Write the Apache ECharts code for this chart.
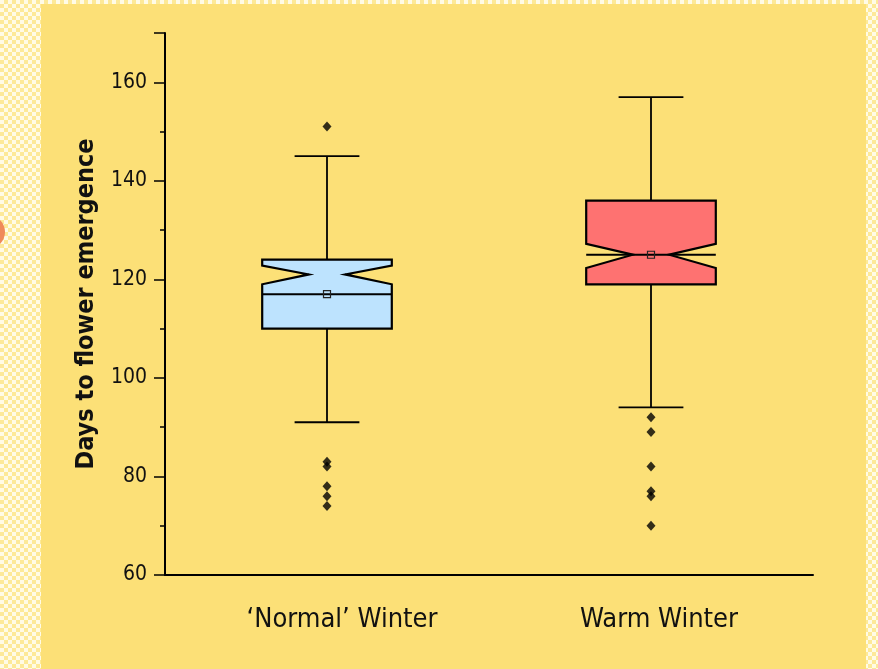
<!DOCTYPE html>
<html>
<head>
<meta charset="utf-8">
<script src="https://cdn.jsdelivr.net/npm/echarts@6/dist/echarts.min.js"></script>
<style>
  html, body { margin: 0; padding: 0; }
  body {
    width: 878px; height: 669px; overflow: hidden; position: relative;
    background-color: #fff6d0;
    background-image: repeating-conic-gradient(#fde998 0 25%, #fffbe6 0 50%);
    background-size: 8px 8px;
  }
  .dot { position: absolute; left: -29px; top: 215px; width: 34px; height: 34px; border-radius: 50%; background: #ef8a5b; }
  #chart { position: absolute; left: 41px; top: 4px; width: 825px; height: 665px; background: #fce077; }
</style>
</head>
<body>
<div class="dot"></div>
<div id="chart"></div>
<script>
  // data
  const categories = ['\u2018Normal\u2019 Winter', 'Warm Winter'];
  const whiskerLow = [91, 94];
  const q1 = [110, 119];
  const notchLow = [119, 122.3];
  const notchMid = [121, 125];
  const notchHigh = [122.8, 127.2];
  const medians = [117, 125];
  const q3 = [124, 136];
  const whiskerHigh = [145, 157];
  const means = [117, 125];
  const outliersNormal = [151, 83, 82, 78, 76, 74];
  const outliersWarm = [92, 89, 82, 77, 76, 70];
  const boxColors = ['#bde3fe', '#fe7271'];
  const labelShift = [30, 16];   // labels sit a bit right of the ticks

  const font = "'Liberation Sans Narrow', 'DejaVu Sans Condensed', 'Liberation Sans', sans-serif";

  let chart = echarts.init(document.getElementById('chart'));

  let boxData = categories.map(function (c, i) {
    return [i, whiskerLow[i], q1[i], notchLow[i], notchMid[i], notchHigh[i], medians[i], q3[i], whiskerHigh[i], means[i]];
  });

  let outlierData = [];
  outliersNormal.forEach(function (v) { outlierData.push([0, v]); });
  outliersWarm.forEach(function (v) { outlierData.push([1, v]); });

  function renderBox(params, api) {
    let idx = api.value(0);
    let y = function (v) { return api.coord([idx, v])[1]; };
    let cx = api.coord([idx, medians[idx]])[0];
    let half = api.size([1, 0])[0] * 0.2;
    let inset = half * 0.72;
    let yMin = y(api.value(1)), yQ1 = y(api.value(2)), yNL = y(api.value(3)), yNM = y(api.value(4)),
        yNH = y(api.value(5)), yMed = y(api.value(6)), yQ3 = y(api.value(7)), yMax = y(api.value(8)),
        yMean = y(api.value(9));
    let pts = [
      [cx - half, yQ3], [cx + half, yQ3], [cx + half, yNH], [cx + half - inset, yNM], [cx + half, yNL],
      [cx + half, yQ1], [cx - half, yQ1], [cx - half, yNL], [cx - half + inset, yNM], [cx - half, yNH]
    ];
    let ln = {stroke: '#000', lineWidth: 1.8};
    let cap = half / 2;
    return {
      type: 'group',
      children: [
        {type: 'line', shape: {x1: cx, y1: yMax, x2: cx, y2: yQ3}, style: ln},
        {type: 'line', shape: {x1: cx, y1: yQ1, x2: cx, y2: yMin}, style: ln},
        {type: 'line', shape: {x1: cx - cap, y1: yMax, x2: cx + cap, y2: yMax}, style: ln},
        {type: 'line', shape: {x1: cx - cap, y1: yMin, x2: cx + cap, y2: yMin}, style: ln},
        {type: 'polygon', shape: {points: pts}, style: {fill: boxColors[idx], stroke: '#000', lineWidth: 2.2}},
        {type: 'line', shape: {x1: cx - half, y1: yMed, x2: cx + half, y2: yMed}, style: {stroke: '#000', lineWidth: 2}},
        {type: 'rect', shape: {x: cx - 3.5, y: yMean - 3.5, width: 7, height: 7}, style: {fill: 'none', stroke: '#222', lineWidth: 1.2}}
      ]
    };
  }

  let option = {
    animation: false,
    grid: {left: 124, right: 53, top: 29, bottom: 94},
    xAxis: {
      type: 'category',
      data: categories.map(function (c, i) {
        return {value: c, textStyle: {padding: [0, 0, 0, labelShift[i]]}};
      }),
      axisLine: {lineStyle: {color: '#000', width: 2}},
      axisTick: {alignWithLabel: true, length: 7, lineStyle: {color: '#000', width: 1.5}},
      axisLabel: {color: '#111', fontSize: 27, fontFamily: font, margin: 31},
      splitLine: {show: false}
    },
    yAxis: [
      {
        type: 'value', min: 60, max: 170, interval: 20, position: 'left',
        name: 'Days to flower emergence',
        nameLocation: 'middle',
        nameGap: 66,
        nameTextStyle: {color: '#111', fontSize: 25, fontFamily: font, fontWeight: 'bold'},
        axisLine: {show: true, lineStyle: {color: '#000', width: 2}},
        axisTick: {show: true, length: 11, lineStyle: {color: '#000', width: 1.5}},
        axisLabel: {color: '#111', fontSize: 21, fontFamily: font, margin: 18,
          formatter: function (v) { return v > 160 ? '' : v; }},
        splitLine: {show: false}
      },
      {
        type: 'value', min: 60, max: 170, interval: 10, position: 'left', offset: 0,
        axisLine: {show: false},
        axisTick: {show: true, length: 5, lineStyle: {color: '#000', width: 1.5}},
        axisLabel: {show: false},
        splitLine: {show: false}
      }
    ],
    series: [
      {
        type: 'custom',
        renderItem: renderBox,
        encode: {x: 0, y: [1, 2, 3, 4, 5, 6, 7, 8, 9]},
        data: boxData,
        z: 2
      },
      {
        type: 'scatter',
        symbol: 'diamond',
        symbolSize: [9, 10],
        itemStyle: {color: '#000'},
        data: outlierData,
        z: 3
      }
    ]
  };

  chart.setOption(option);
</script>
</body>
</html>
